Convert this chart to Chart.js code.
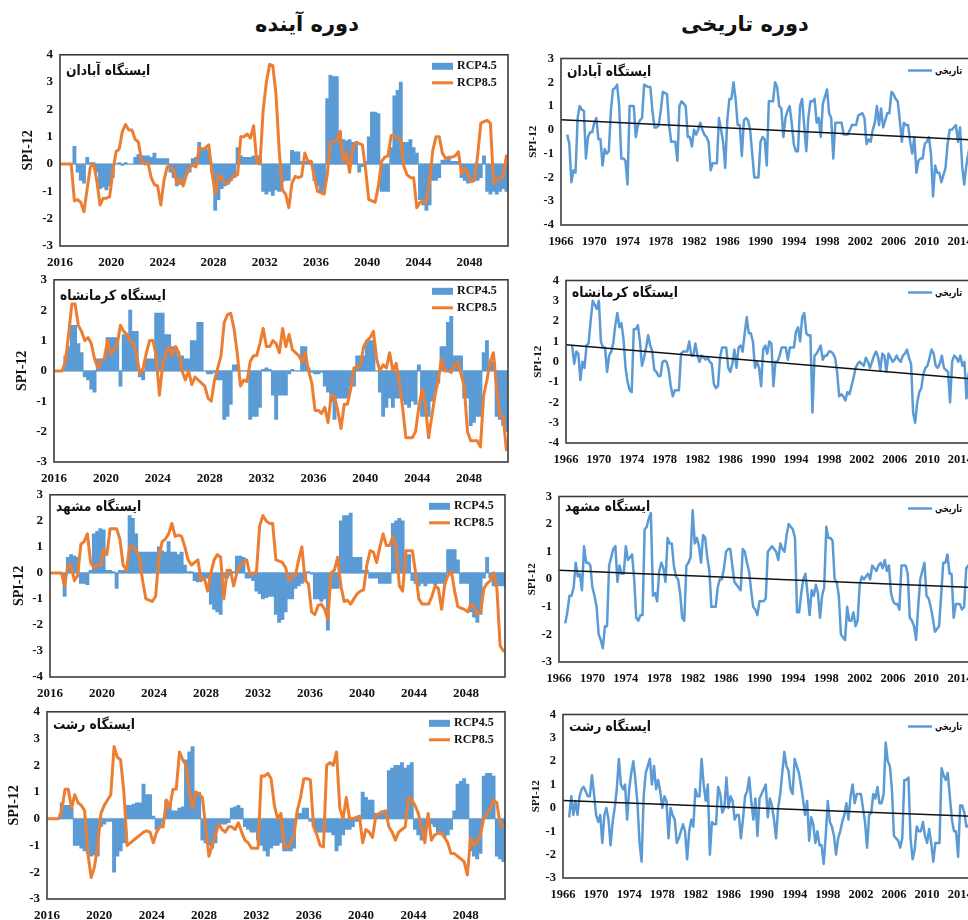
<!DOCTYPE html>
<html>
<head>
<meta charset="utf-8">
<script src="https://cdn.jsdelivr.net/npm/chart.js@4.4.1/dist/chart.umd.min.js"></script>
<style>
  html, body { margin: 0; padding: 0; background: #fff; width: 968px; height: 920px; overflow: hidden; }
  canvas { position: absolute; }
  .head { position: absolute; top: 12px; font: bold 21px "DejaVu Sans", sans-serif; color: #111; direction: rtl; white-space: nowrap; transform: translateX(-50%); }
</style>
</head>
<body>
<div class="head" style="left:307px">دوره آینده</div>
<div class="head" style="left:745px">دوره تاریخی</div>
<script>
// ---------- labels ----------
const stationNames = ['ایستگاه آبادان', 'ایستگاه کرمانشاه', 'ایستگاه مشهد', 'ایستگاه رشت'];
const futureYearTicks = [2016, 2020, 2024, 2028, 2032, 2036, 2040, 2044, 2048];
const histYearTicks = [1966, 1970, 1974, 1978, 1982, 1986, 1990, 1994, 1998, 2002, 2006, 2010, 2014];
const histLegendLabel = 'تاریخی';

// ---------- future period: quarterly SPI-12, 2016 Q1 .. 2050 Q4 ----------
const futureStart = 2016;
const abadanRcp45 = [
  0,0,0,0, 0.65,-0.3,-0.6,-0.7, 0.25,0.05,0.05,-0.3, -0.9,-0.85,-0.95,-0.8, -0.5,0,0.05,-0.05,
  0.05,0,0,0.25, 0.35,0.3,0.3,0.3, 0.25,0.4,0.2,0.2, 0.2,0.2,-0.3,-0.5, -0.8,-0.75,-0.7,-0.4,
  -0.3,0.2,0.25,0.8, 0.55,0.6,0.5,-0.3, -1.7,-1.3,-0.9,-0.8, -0.75,-0.6,-0.5,0.6, 0.3,0.25,0.25,0.25,
  0.3,0.3,0.3,-1.0, -1.1,-1.0,-1.15,-0.95, -1.0,-0.65,-0.6,-0.6, 0.5,0.45,0.45,0.1, 0.1,0.1,0.1,-0.6,
  -0.8,-1.0,-1.1,2.4, 3.25,3.2,3.2,1.2, 0.9,0.85,0.9,0.8, 0.8,-0.3,-0.1,0.1, 1.0,1.9,1.9,1.85,
  -1.0,-1.0,-1.0,0.6, 2.5,2.7,3.0,0.8, 0.8,0.9,0.6,0.4, -1.3,-1.5,-1.7,-1.5, -0.6,-0.6,-0.5,0.15,
  0.15,0.2,0.1,0.1, 0.1,-0.5,-0.6,-0.7, -0.6,-0.5,-0.6,-0.5, 0.3,-1.0,-1.1,-1.0, -1.1,-1.0,-0.9,-1.0
];
const abadanRcp85 = [
  0,0,0,0, -1.35,-1.3,-1.4,-1.75, -0.9,-0.1,0,-0.6, -1.5,-1.25,-1.25,-1.2, -0.3,0.45,0.55,1.2,
  1.45,1.25,1.25,0.9, 0.8,0.1,0,0.05, -0.5,-0.75,-0.8,-1.5, -0.6,-0.1,-0.1,-0.2, -0.7,-0.55,-0.8,-0.4,
  -0.1,-0.05,-0.1,0.6, 0.55,0.6,0.7,-0.3, -1.1,-0.4,-0.5,-0.7, -0.7,-0.55,-0.4,-0.4, 1.0,1.0,1.1,0.95,
  1.4,0.05,0,2.0, 3.0,3.65,3.6,2.55, 0.5,-0.95,-1.1,-1.6, -0.7,-0.45,-0.5,-0.45, 0.4,0.1,0.1,-0.5,
  -1.0,-1.05,-1.1,-0.4, 0.8,0.85,0.85,1.2, 0.1,0.4,-0.3,0.6, 0.8,0.75,0.7,-0.2, -1.3,-1.35,-1.4,-0.8,
  0.1,0.25,0.3,1.05, 1.05,0.95,0.9,-0.1, -0.4,-0.5,-0.5,-1.6, -1.4,-1.35,-1.4,-0.6, 0.5,1.0,1.0,0.4,
  0.2,0.25,0.25,0.3, 0.45,-0.35,-0.15,-0.4, -0.65,-0.6,0.3,1.5, 1.55,1.6,1.5,-0.7, -0.6,-0.5,-0.45,0.3
];
const kermanshahRcp45 = [
  0,0,0,0.5, 0.8,1.5,1.5,0.9, 0.6,-0.2,-0.3,-0.6, -0.7,0.4,0.4,0.4, 1.1,1.1,1.1,1.1,
  -0.5,1.2,1.2,2.0, 1.3,1.3,-0.2,-0.3, 0.4,0.4,0.4,1.9, 1.9,1.9,1.2,1.2, 0.8,0.8,0.5,0.5,
  0.4,0.4,1.0,1.0, 1.6,1.6,0,-0.1, -0.1,-0.05,-0.3,-0.3, -1.6,-1.5,-1.1,0.2, 0.2,0,0,0,
  -1.6,-1.5,-1.5,-1.2, 0.05,0.1,0.05,-0.8, -1.6,-0.8,-0.8,-0.8, -0.1,0.05,0,0, 0.8,0.8,0.1,-0.05,
  -0.1,-0.1,-0.05,-0.5, -0.7,-1.0,-1.6,-0.9, -0.9,-0.9,-0.9,-0.5, -0.5,0.5,0.5,0.5, 1.0,1.0,1.0,0,
  -0.7,-1.5,-1.2,-0.9, -1.2,-0.9,-0.9,-1.0, -1.1,-1.2,-1.0,-1.1, 0.2,-1.5,-1.5,-1.5, -1.0,-0.7,-0.4,0.8,
  0.8,1.6,1.8,0.5, 0.5,0.5,-0.9,-0.9, -1.8,-1.7,-1.5,-1.5, 0.6,1.0,0.3,0.3, -1.5,-1.6,-1.8,-2.0
];
const kermanshahRcp85 = [
  0,0,0,0.3, 1.2,2.2,2.2,1.5, 1.3,1.0,1.1,0.9, 0.4,0.1,0.35,0.4, 1.0,0.55,0.7,0.9,
  1.5,1.3,1.2,1.0, 0.9,0.5,-0.1,0.1, 0.6,1.0,1.0,0.5, -0.8,0.2,0.6,0.8, 0.5,0.8,0.6,0,
  -0.3,0,-0.45,-0.2, -0.3,-0.4,-0.5,-0.9, -1.0,-0.3,0.1,0.5, 1.6,1.85,1.9,1.4, 0.6,-0.5,-0.3,-0.35,
  0.3,0.5,0.5,0.9, 1.4,0.8,0.8,1.0, 0.9,0.6,1.4,0.8, 1.2,0.7,0.6,0.5, 0.3,0.6,0,-0.4,
  -1.3,-1.3,-1.4,-1.2, -1.7,-0.8,-0.85,-1.3, -1.9,-1.1,-1.1,-0.6, 0.1,0.1,0.2,0.8, 1.0,1.1,1.3,0.4,
  0,0.2,0.1,0.6, 0,0.25,-0.4,-1.2, -2.2,-2.2,-2.2,-2.0, -1.2,-0.6,-1.1,-2.2, -1.5,-0.8,-0.3,0.4,
  0,0,-0.05,0.2, 0.3,-0.1,-0.5,-2.0, -2.3,-2.3,-2.3,-2.5, -0.8,-0.3,0.3,0.6, -0.6,-1.5,-1.5,-2.6
];
const mashhadRcp45 = [
  0,0,0,0, -0.9,0.6,0.7,0.65, 0.6,-0.4,-0.4,-0.45, 0.1,1.5,1.6,1.7, 1.65,0.1,0.1,0.05,
  -0.6,0.1,0.1,0.1, 2.2,2.1,1.5,0.8, 0.8,0.8,0.8,0.8, 0.8,1.0,0.85,0.8, 1.2,0.8,0.8,0.7,
  0.8,0.3,0.05,0.05, -0.3,-0.35,-0.2,-0.2, -0.2,-1.2,-1.4,-1.5, -1.6,-0.2,-0.2,-0.1, 0.05,0.65,0.65,0.6,
  -0.2,-0.2,-0.3,-0.7, -0.8,-1.0,-0.95,-0.9, -0.9,-1.6,-1.9,-1.8, -1.5,-1.0,-1.0,-0.6, -0.5,-0.4,-0.3,0.05,
  -0.05,-1.0,-1.0,-1.1, -1.0,-2.2,-0.6,-0.6, -0.6,2.0,2.2,2.2, 2.3,0.6,0.6,0.6, 0.1,0.1,-0.2,-0.2,
  -0.2,-0.4,-0.4,-0.4, -0.4,1.9,2.0,2.1, 2.0,0.7,0.7,-0.3, -0.4,-0.5,-0.4,-0.5, -0.4,-0.4,-0.45,-0.4,
  -0.4,-0.4,0.9,0.9, 0.9,0.5,-0.4,-0.4, -0.4,-1.5,-1.7,-1.9, -1.6,-0.2,0.6,-0.2, -0.5,-0.5,-0.5,-0.5
];
const mashhadRcp85 = [
  0,0,0,0, -0.5,0.3,0.3,-0.3, -0.1,1.1,1.2,1.5, 0.4,0.2,0.3,0.3, 0.9,0.7,1.7,1.7,
  1.7,1.3,0.3,0.1, 1.0,1.0,0.9,0.6, -0.3,-1.0,-1.05,-1.1, -0.9,0.6,1.2,1.3, 1.5,1.9,1.4,1.45,
  1.4,1.0,0.5,0.3, 0.4,0.5,-0.3,-0.2, -0.7,0,0.5,0.7, 0.6,-1.0,0.1,0.1, -0.5,0,0.3,0.4,
  0.5,-0.05,0,0, 1.8,2.2,2.0,1.9, 1.9,0.5,0.45,0.4, 0.2,-0.3,-0.1,-0.1, 0.5,1.0,-0.3,-0.4,
  -1.5,-1.6,-1.25,-1.2, -1.4,-1.8,0,0.1, 0.6,-0.5,-1.1,-1.05, -1.2,-1.0,-0.8,-0.7, -0.65,0.3,0.85,0.8,
  0.4,1.0,1.5,1.05, 1.05,1.4,1.0,-0.5, -0.7,0.85,0.85,0.85, 0,-1.0,-1.2,-1.2, -1.2,-0.9,-0.5,-0.6,
  -1.4,-0.4,-0.1,0.05, -0.7,-1.3,-1.35,-1.4, -1.5,-1.2,-1.3,-1.6, -1.5,-0.6,-0.4,-0.3, 0,-0.6,-2.8,-3.0
];
const rashtRcp45 = [
  0,0,0,0, 0.6,0.5,0.5,0.4, -1.0,-1.0,-1.1,-1.2, -1.3,-1.4,-1.35,-1.4, -0.3,-0.2,-0.1,-0.1,
  -2.0,-1.4,-1.2,-0.9, 0.5,0.5,0.55,0.6, 0.6,1.3,0.9,0.9, 0.1,-0.4,-0.3,-0.1, 0.7,0.6,0.3,0.3,
  0.4,0.45,2.2,2.5, 2.7,1.0,1.0,-0.8, -0.9,-1.0,-1.1,-0.9, -0.2,-0.2,-0.2,-0.15, 0.4,0.45,0.5,0.4,
  -0.3,-0.4,-0.5,-0.5, -0.8,-1.0,-1.2,-1.4, -1.1,-1.0,-1.0,-0.9, -1.2,-1.2,-1.2,-1.1, 0.2,0.2,0.4,0.4,
  -0.1,-0.3,-0.5,-0.5, -0.5,-0.5,-0.5,-0.6, -1.2,-1.0,-0.6,-0.4, -0.4,-0.3,-0.1,-0.1, 1.0,0.8,0.7,0.7,
  0.2,0.2,0.3,0.2, 1.8,1.9,2.0,2.0, 2.1,1.9,2.0,2.1, -0.4,-0.6,-0.8,-0.7, -0.2,-0.2,-0.3,-0.5,
  -0.6,-0.7,-0.6,-0.4, 0.3,1.3,1.4,1.5, 1.3,-1.2,-1.4,-1.5, -1.3,1.6,1.7,1.7, 1.6,-1.4,-1.5,-1.6
];
const rashtRcp85 = [
  0,0,0,0, 0.3,1.1,1.1,0.4, 0.9,0.6,0.5,0.3, -1.3,-2.2,-1.8,-1.0, 0.2,0.5,0.7,0.9,
  2.7,2.3,2.2,1.0, -1.0,-0.9,-0.8,-0.7, -0.6,-0.5,-0.45,-0.5, -0.9,-0.5,-0.3,-0.3, 0.7,0.4,1.1,1.1,
  2.5,2.2,2.0,1.0, 0.4,1.0,0.9,0.8, -0.3,-1.4,-1.0,-0.6, -0.2,-0.4,-0.5,-0.3, -0.3,-0.4,-0.15,-0.5,
  -0.8,-0.9,-1.1,-1.1, -1.1,1.6,1.6,1.7, 1.5,0.5,0,0.2, -1.0,-1.1,-0.9,-0.6, 0.3,0.8,1.5,1.5,
  1.45,-0.3,-0.6,-1.0, -1.05,2.0,2.1,2.0, 2.5,0.4,0,0.8, 0,0,0.05,0.1, -0.9,-0.4,-0.5,-0.7,
  0.1,0.2,0.25,0.3, -0.3,-0.5,-0.8,-0.5, -0.4,-0.3,0.8,0.7, 0.5,0.2,-0.3,-0.9, 0.2,-0.8,-0.6,-0.55,
  -0.5,-0.7,-0.9,-1.3, -1.3,-1.4,-1.5,-1.6, -2.1,-0.7,-1.0,-0.9, -0.6,0,0.2,0.35, 0.7,0.6,-0.2,-0.3
];

// ---------- historical period: quarterly SPI-12 from 1966.75 ----------
const histStart = 1966.75;
const abadanHist = [
  -0.2,
  -0.6,-2.2,-1.7,-1.8,  0.5,1.0,0.85,0.8,  -1.2,-0.3,-0.1,-0.1,  0.3,0.5,-0.4,-0.4,  -1.5,-0.8,-1.0,-0.9,
  0.8,1.7,1.75,1.9,  1.0,-1.2,-1.2,-1.3,  -2.3,1.0,1.0,1.0,  -0.3,0.2,0.4,0.5,  1.9,1.85,1.8,1.8,
  0.8,0.1,0.1,0.2,  0.8,1.6,1.55,1.5,  0.2,-0.5,-0.5,-0.5,  -1.3,1.0,1.2,1.1,  1.0,-0.3,-0.3,-0.7,
  0,-0.2,0,0.3,  0,-0.2,-0.3,-0.5,  -1.7,-1.4,-1.4,-1.4,  0.5,0,-0.5,-1.6,  0.4,1.3,1.3,2.0,
  1.3,0.2,0.2,-1.1,  0.4,0.5,0.4,0,  -1.0,-2.0,-2.0,-2.0,  -0.5,-0.3,-0.4,-1.5,  1.2,1.2,1.2,2.0,
  1.8,1.0,0.9,-0.3,  0.5,0.8,1.0,0.3,  -0.6,-0.9,-0.9,1.0,  1.3,0.2,-0.9,0.5,  1.2,1.2,1.3,0.3,
  0.5,-0.3,1.1,1.4,  1.7,0.7,0.5,-1.2,  0.3,0.3,0.3,0.3,  -0.2,-0.2,-0.2,0,  0.2,0.2,0.2,0.6,
  0.65,0.7,0.5,-0.6,  -0.4,-0.5,0,0.3,  1.0,0.2,0.9,0.1,  0.4,0.7,0.7,1.6,  1.5,1.3,1.2,0.4,
  -0.5,0.3,0.2,0.2,  -0.5,-1.0,-0.3,-1.8,  -1.3,-1.2,-1.2,-0.6,  -0.5,-0.3,-1.0,-2.8,  -1.5,-1.8,-1.8,-2.2,
  -1.9,-1.6,-0.6,0,  0,0.1,0.2,-0.5,  0.1,-1.5,-2.3,-1.5,  -1.0,-0.5,0,0.2,
  0
];
const kermanshahHist = [
  0.8,
  -0.1,0.5,0.4,-0.9,  0,-0.3,0.8,0.9,  2.0,3.0,2.8,2.6,  3.0,1.0,0.7,0.7,  -0.5,0.3,0.5,0.9,
  1.8,2.4,1.7,1.9,  1.1,-0.3,-1.0,-1.4,  -1.5,1.6,1.6,1.8,  1.0,-0.2,0.2,0.7,  1.3,0.8,0.5,-0.4,
  -0.5,-0.7,-0.7,0,  0.05,0,-0.4,-1.2,  -1.7,-1.4,-1.4,-1.4,  0.4,0.5,0.5,0.5,  1.0,0.3,0.3,0.9,
  0.3,0,0.3,0.2,  0.1,0.2,0,-0.1,  -1.1,-1.3,-1.2,0.2,  0.7,0.7,0.7,-0.3,  -0.5,-0.1,0.6,-0.3,
  0.7,0.8,0.5,1.4,  2.2,1.4,1.4,1.0,  -0.3,0,-0.3,-1.2,  0.6,0.8,0.4,1.0,  0.9,-1.2,0,0,
  0.3,0.7,0.7,0.7,  0.1,0.7,0.7,0.7,  1.5,1.7,1.0,2.2,  2.4,1.4,1.3,1.3,  -2.5,0.3,0.4,0.6,
  0.8,0.1,0.3,0.3,  0.5,0.5,0.4,0.2,  -0.5,-1.7,-1.6,-1.7,  -1.9,-1.5,-1.6,-1.2,  -0.8,-0.3,-0.1,0,
  -0.1,-0.2,0.2,0,  -0.3,0,0.3,0.5,  0.2,-0.4,0.4,0.3,  -0.5,0.4,0.2,0,  0.1,0.3,0.1,0,
  0.3,0.4,0.6,0.2,  -0.1,-2.5,-3.0,-2.0,  -1.5,-1.3,-0.6,-0.3,  -0.2,0.2,0.6,0.4,  -0.2,-0.3,-0.1,0.3,
  -0.3,-0.4,-0.5,-2.0,  0,0.3,0.2,0,  0.3,-0.2,0,-1.8,  -0.6,-0.3,0,-0.4,
  -0.5
];
const mashhadHist = [
  -1.6,
  -1.2,-0.6,-0.6,-0.3,  0.6,0.1,0.2,-0.4,  1.2,0.6,0.6,0.5,  -0.3,-0.6,-1.0,-2.0,  -2.2,-2.5,-1.7,-1.7,
  0.5,0.8,1.1,1.2,  -0.1,0.5,0.2,0.2,  1.2,0.7,0.8,0.9,  0,-1.4,-1.5,-1.3,  -1.3,1.8,1.9,2.2,
  2.4,-0.6,-0.5,-0.8,  0.3,0.6,0.4,-0.1,  1.5,1.3,1.3,0.5,  0.1,0,-0.5,-1.4,  -1.5,0.5,0.6,0.8,
  2.5,1.3,1.5,1.2,  0.6,1.6,1.5,0.8,  0.3,-1.0,-1.0,-1.0,  -0.3,0,0,0.4,  1.0,1.1,1.1,0.5,
  -0.1,-0.2,-0.3,-0.4,  1.1,1.0,0.6,0.3,  -0.4,-1.0,-1.1,-1.3,  -0.8,-0.8,-0.8,-0.7,  1.0,1.1,1.2,1.1,
  1.0,0.7,1.3,1.1,  1.0,1.6,2.0,1.9,  1.8,1.5,-1.2,-1.2,  -0.5,0,0.2,-0.5,  -1.3,-0.4,-0.6,-0.2,
  -0.5,-1.4,-0.6,-0.3,  1.9,1.5,1.5,1.4,  0,-0.1,-0.6,-2.0,  -2.1,-2.2,-1.0,-1.5,  -1.5,-1.2,-1.7,-1.5,
  -0.2,0.1,0,0.1,  0.2,0,0.5,0.4,  0.3,0.5,0.6,0.4,  0.7,0.3,0.5,-0.5,  -0.8,-0.9,-0.9,-1.1,
  0.5,0.5,0.5,0.2,  -1.4,-1.5,-1.7,-2.2,  -1.0,0,0.3,0.6,  -0.6,-0.7,-1.0,-1.4,  -1.9,-1.8,-1.7,-0.6,
  0.6,0.6,0.9,0.2,  0.2,-1.4,-0.9,-0.9,  -0.9,-1.1,-1.0,0.4,  0.5,0.2,-0.3,-0.5,
  -0.4
];
const rashtHist = [
  -0.4,
  0.5,-0.3,0.3,-0.3,  0.5,0.8,0.9,0.7,  0.5,0.5,1.4,0.6,  -0.3,-0.6,-0.3,-1.5,  -0.3,0,-0.5,-1.6,
  -0.6,0,0.8,2.1,  1.0,0.8,1.0,-0.5,  0.8,1.5,2.0,1.2,  0.2,-1.5,-2.3,0.5,  1.5,1.8,2.1,1.0,
  1.8,0.8,1.2,0.7,  0,0.5,0.3,-1.3,  0,-0.3,-0.5,-1.5,  -1.3,-1.0,-0.7,-1.0,  -2.2,-1.0,-0.5,-0.8,
  0.8,0.5,0.5,2.1,  1.0,0.3,1.0,-2.0,  -0.6,-0.7,-0.7,0.9,  0.6,-0.2,0,1.3,  0,0.5,0.3,-0.5,
  -0.3,-0.3,-1.3,-0.5,  0.5,0.7,1.3,0.3,  -0.5,0.4,-1.2,0.4,  0.6,0.8,1.0,-0.4,  0.4,0.1,-0.5,-1.3,
  0,0.6,1.5,2.4,  1.8,1.6,0.8,0.6,  2.1,1.8,1.5,1.0,  0.4,-0.3,0.3,-1.4,  -0.4,-0.7,-1.5,-1.0,
  -1.6,-1.6,-2.4,-1.2,  0.3,-0.6,-0.8,-1.2,  -2.0,-1.3,-1.0,-0.6,  -0.3,0.2,-0.5,0.5,  1.0,0.2,0.6,0.6,
  0.6,0,-0.6,-1.7,  -0.3,-0.2,0.6,0.4,  0.9,0.2,0.2,0.6,  2.8,2.0,1.8,0.8,  -1.2,-1.3,-1.4,-1.7,
  -1.3,1.2,1.2,1.3,  -1.3,-2.2,-1.8,-0.8,  -1.0,-1.0,-0.6,-1.2,  -1.5,-0.9,-1.5,-2.3,  -1.5,-1.5,-1.5,1.7,
  1.4,1.2,1.5,0.5,  -0.5,-1.0,-1.0,-2.1,  0.1,0.1,-0.2,-0.8,  -0.8,-0.5,0.2,0.5,
  0.3
];
// linear trend of each historical series: value at 1966 and at 2017
const trendYears = [1966, 2017];
const abadanTrend = [0.43, -0.45];
const kermanshahTrend = [0.84, -0.90];
const mashhadTrend = [0.33, -0.32];
const rashtTrend = [0.32, -0.38];

// ---------- styling ----------
const BLUE = '#5b9bd5';
const ORANGE = '#ed7d31';
const FRAME = '#3c3c3c';
const SERIF = '"Liberation Serif", "Times New Roman", serif';

// draws text squeezed horizontally by factor sx
function squeezedText(ctx, text, x, y, sx) {
  ctx.save();
  ctx.translate(x, y);
  ctx.scale(sx, 1);
  ctx.fillText(text, 0, 0);
  ctx.restore();
}

const panelDecor = {
  id: 'panelDecor',
  beforeDatasetsDraw(chart, args, o) {
    if (!o.zeroLine) return;
    const { ctx, chartArea: a } = chart;
    const y = chart.scales.y.getPixelForValue(0);
    ctx.save();
    ctx.strokeStyle = '#c6ced8';
    ctx.lineWidth = 2;
    ctx.beginPath(); ctx.moveTo(a.left, y); ctx.lineTo(a.right, y); ctx.stroke();
    ctx.restore();
  },
  afterDatasetsDraw(chart, args, o) {
    const { ctx, chartArea: a } = chart;
    ctx.save();
    ctx.strokeStyle = FRAME;
    ctx.lineWidth = 1.6;
    ctx.strokeRect(a.left, a.top, a.right - a.left, a.bottom - a.top);
    ctx.fillStyle = '#111';
    ctx.textBaseline = 'middle';
    ctx.textAlign = 'left';
    ctx.font = 'bold 14px "DejaVu Sans", sans-serif';
    squeezedText(ctx, o.station, a.left + o.nameDx, a.top + o.nameDy, 0.88);
    (o.legend || []).forEach(it => {
      const y = a.top + it.dy;
      if (it.kind === 'box') {
        ctx.fillStyle = it.color;
        ctx.fillRect(it.x0, y - 3, it.x1 - it.x0, 7);
      } else {
        ctx.strokeStyle = it.color;
        ctx.lineWidth = it.width;
        ctx.beginPath(); ctx.moveTo(it.x0, y); ctx.lineTo(it.x1, y); ctx.stroke();
      }
      ctx.fillStyle = '#111';
      ctx.font = it.font;
      squeezedText(ctx, it.text, it.tx, y + 0.5, it.sx || 1);
    });
    ctx.restore();
  }
};
Chart.register(panelDecor);

function makeCanvas(p) {
  const c = document.createElement('canvas');
  c.width = p.w; c.height = p.h;
  c.style.left = p.left + 'px'; c.style.top = p.top + 'px';
  document.body.appendChild(c);
  return c;
}

function axisOptions(p, xr, xTicks, yr, tickSize, titleSize, titleCenter) {
  const lh = titleSize * 1.2;
  return {
    responsive: false,
    animation: false,
    events: [],
    layout: {
      autoPadding: false,
      padding: { top: p.plot.t - p.top, right: p.left + p.w - p.plot.r, left: 0, bottom: 0 }
    },
    scales: {
      x: {
        type: 'linear', min: xr[0], max: xr[1], offset: false,
        afterBuildTicks: s => { s.ticks = xTicks.map(v => ({ value: v })); },
        afterFit: s => { s.height = p.top + p.h - p.plot.b; },
        grid: { display: false, drawTicks: false },
        border: { display: false },
        ticks: { autoSkip: false, maxRotation: 0, padding: 9, color: '#111',
                 font: { family: SERIF, weight: 'bold', size: tickSize },
                 callback: v => String(v) }
      },
      y: {
        type: 'linear', min: yr[0], max: yr[1],
        afterBuildTicks: s => {
          const t = [];
          for (let v = yr[0]; v <= yr[1]; v++) t.push({ value: v });
          s.ticks = t;
        },
        afterFit: s => { s.width = p.plot.l - p.left; },
        grid: { display: false, drawTicks: false },
        border: { display: false },
        ticks: { padding: 7, color: '#111', font: { family: SERIF, weight: 'bold', size: tickSize } },
        title: { display: true, text: 'SPI-12', color: '#111',
                 font: { family: SERIF, weight: 'bold', size: titleSize },
                 padding: { top: titleCenter - (p.left) - lh / 2, bottom: 0 } }
      }
    }
  };
}

// ---------- future panels ----------
const futurePanels = [
  { left: 0, top: 40,  w: 520, h: 235, plot: { l: 60, t: 51,  r: 508, b: 246 }, y: [-3, 4], titleX: 28, nameDy: 17, name: stationNames[0], bars: abadanRcp45,     line: abadanRcp85 },
  { left: 0, top: 265, w: 520, h: 222, plot: { l: 54, t: 275, r: 508, b: 462 }, y: [-3, 3], titleX: 22, nameDy: 17, name: stationNames[1], bars: kermanshahRcp45, line: kermanshahRcp85 },
  { left: 0, top: 480, w: 520, h: 222, plot: { l: 50, t: 490, r: 505, b: 677 }, y: [-4, 3], titleX: 19, nameDy: 13, name: stationNames[2], bars: mashhadRcp45,    line: mashhadRcp85 },
  { left: 0, top: 697, w: 520, h: 223, plot: { l: 47, t: 707, r: 505, b: 899 }, y: [-3, 4], titleX: 14, nameDy: 14, name: stationNames[3], bars: rashtRcp45,      line: rashtRcp85 }
];

futurePanels.forEach(p => {
  const toPts = arr => arr.map((v, i) => ({ x: futureStart + (i + 0.5) / 4, y: v }));
  const opts = axisOptions(p, [2016, 2051], futureYearTicks, p.y, 13, 14, p.titleX);
  const r = p.plot.r;
  opts.plugins = {
    legend: { display: false },
    tooltip: { enabled: false },
    panelDecor: {
      zeroLine: true, station: p.name, nameDx: 6, nameDy: p.nameDy,
      legend: [
        { kind: 'box', color: BLUE, x0: r - 76, x1: r - 55, dy: 11, tx: r - 51, text: 'RCP4.5', font: 'bold 12px ' + SERIF },
        { kind: 'line', color: ORANGE, width: 3, x0: r - 76, x1: r - 55, dy: 28, tx: r - 51, text: 'RCP8.5', font: 'bold 12px ' + SERIF }
      ]
    }
  };
  new Chart(makeCanvas(p), {
    type: 'bar',
    data: {
      datasets: [
        { type: 'line', label: 'RCP8.5', data: toPts(p.line), borderColor: ORANGE, borderWidth: 3,
          pointRadius: 0, tension: 0, borderJoinStyle: 'round', borderCapStyle: 'round', order: 0 },
        { type: 'bar', label: 'RCP4.5', data: toPts(p.bars), backgroundColor: BLUE, borderWidth: 0,
          barPercentage: 1, categoryPercentage: 1, order: 1 }
      ]
    },
    options: opts
  });
});

// ---------- historical panels ----------
const histPanels = [
  { left: 520, top: 44,  w: 490, h: 210, plot: { l: 561, t: 54,  r: 985, b: 225 }, y: [-4, 3], titleX: 533, nameDy: 14, name: stationNames[0], series: abadanHist,     trend: abadanTrend },
  { left: 520, top: 266, w: 490, h: 205, plot: { l: 566, t: 276, r: 985, b: 443 }, y: [-4, 4], titleX: 538, nameDy: 13, name: stationNames[1], series: kermanshahHist, trend: kermanshahTrend },
  { left: 520, top: 482, w: 490, h: 205, plot: { l: 559, t: 492, r: 985, b: 662 }, y: [-3, 3], titleX: 532, nameDy: 11, name: stationNames[2], series: mashhadHist,    trend: mashhadTrend },
  { left: 520, top: 700, w: 490, h: 210, plot: { l: 563, t: 710, r: 985, b: 878 }, y: [-3, 4], titleX: 536, nameDy: 13, name: stationNames[3], series: rashtHist,      trend: rashtTrend }
];

histPanels.forEach(p => {
  const opts = axisOptions(p, [1966, 2017], histYearTicks, p.y, 12.5, 11, p.titleX);
  opts.plugins = {
    legend: { display: false },
    tooltip: { enabled: false },
    panelDecor: {
      zeroLine: false, station: p.name, nameDx: 6, nameDy: p.nameDy,
      legend: [
        { kind: 'line', color: BLUE, width: 2.5, x0: 908 - p.left, x1: 932 - p.left, dy: 12,
          tx: 935 - p.left, text: histLegendLabel, font: 'bold 11px "DejaVu Sans", sans-serif', sx: 0.72 }
      ]
    }
  };
  new Chart(makeCanvas(p), {
    type: 'line',
    data: {
      datasets: [
        { label: 'trend', data: trendYears.map((x, i) => ({ x, y: p.trend[i] })), borderColor: '#111',
          borderWidth: 1.5, pointRadius: 0, order: 0 },
        { label: histLegendLabel, data: p.series.map((v, i) => ({ x: histStart + i / 4, y: v })),
          borderColor: BLUE, borderWidth: 2.5, pointRadius: 0, tension: 0, borderJoinStyle: 'round', order: 1 }
      ]
    },
    options: opts
  });
});
</script>
</body>
</html>
